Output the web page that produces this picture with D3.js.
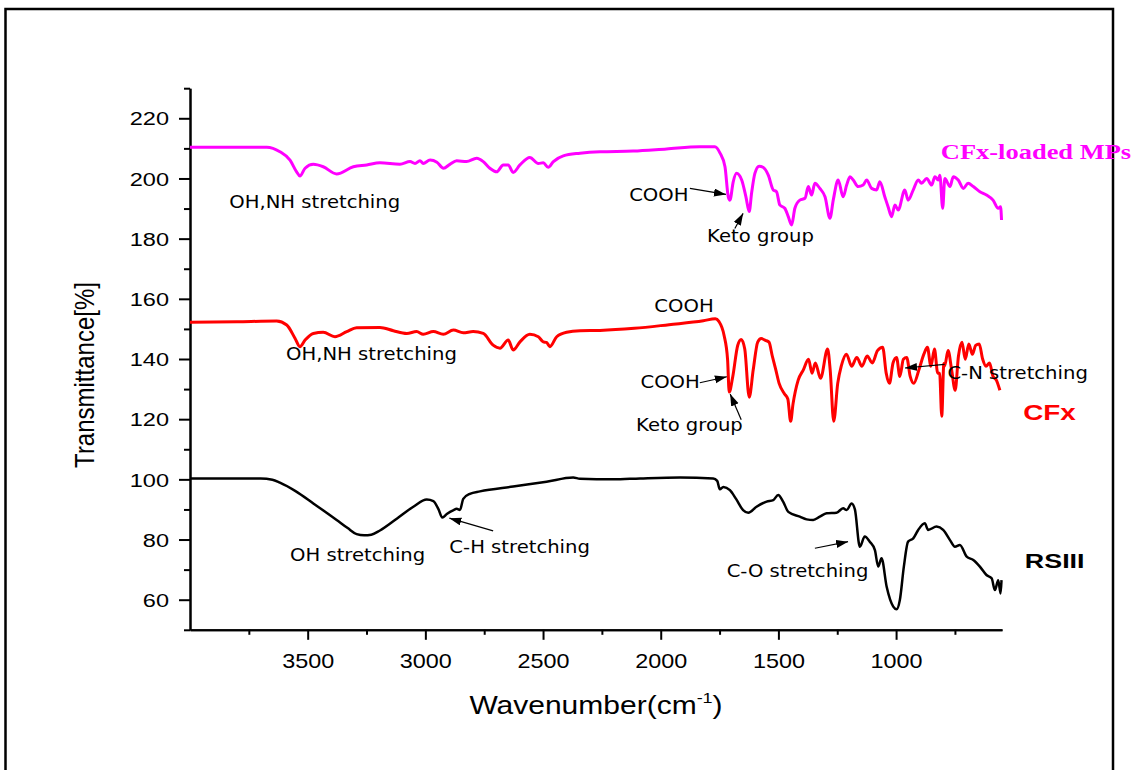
<!DOCTYPE html>
<html><head><meta charset="utf-8">
<script src="https://cdn.jsdelivr.net/npm/d3@7"></script>
<style>body{margin:0;background:#fff;} svg{display:block;}</style>
</head><body>
<svg id="chart" width="1141" height="770"></svg>
<script>
// ---------------- data ----------------
const xMajorTicks = [3500, 3000, 2500, 2000, 1500, 1000];
const xMinorTicks = [3750, 3250, 2750, 2250, 1750, 1250, 750];
const yMajorTicks = [60, 80, 100, 120, 140, 160, 180, 200, 220];
const yMinorTicks = [50, 70, 90, 110, 130, 150, 170, 190, 210, 230];
const seriesNames = ["RSIII", "CFx", "CFx-loaded MPs"];

// [wavenumber (cm-1), transmittance (%)]
const rsiii = [
  [4000,100.3],[3850,100.3],[3700,100.3],[3650,99.9],[3618,98.9],[3550,96.0],[3476,92.0],[3377,86.5],
  [3330,83.8],[3292,81.8],[3260,81.4],[3230,81.6],[3193,83.0],[3120,87.0],[3051,90.9],[2994,93.3],
  [2966,92.8],[2945,90.2],[2928,87.3],[2909,88.5],[2880,89.8],[2867,90.2],[2853,89.8],[2839,93.5],
  [2811,95.2],[2768,96.0],[2627,97.6],[2485,99.2],[2372,100.6],[2343,100.2],[2202,100.0],[2088,100.3],
  [1918,100.6],[1777,100.3],[1760,99.5],[1749,96.7],[1734,97.5],[1706,96.4],[1680,93.5],[1650,89.8],
  [1628,88.9],[1593,90.9],[1550,92.6],[1522,93.1],[1501,94.8],[1480,92.6],[1458,89.2],[1409,87.6],
  [1380,86.7],[1352,86.5],[1324,87.6],[1295,88.7],[1253,88.9],[1225,90.4],[1210,89.8],[1189,92.0],
  [1175,90.0],[1154,77.6],[1133,81.0],[1112,79.3],[1090,76.5],[1076,71.0],[1062,73.8],[1040,64.3],
  [1012,57.7],[998,56.8],[984,59.9],[967,71.0],[949,79.3],[927,80.4],[906,83.2],[878,85.4],
  [864,83.2],[828,84.3],[800,83.2],[771,79.8],[750,77.6],[729,78.2],[700,74.3],[672,73.2],
  [644,71.0],[616,68.2],[594,67.1],[580,63.2],[566,66.5],[556,62.1],[552,66.5]
];
const cfx = [
  [4000,152.2],[3800,152.4],[3632,152.6],[3589,151.3],[3554,146.9],[3533,144.1],[3511,146.3],[3476,148.5],
  [3434,148.9],[3384,147.4],[3334,149.1],[3292,150.4],[3193,150.5],[3136,149.4],[3079,148.5],[3037,149.1],
  [3009,148.2],[2966,149.1],[2924,148.2],[2881,149.6],[2839,148.7],[2797,149.1],[2754,148.5],[2712,144.6],
  [2683,143.6],[2648,146.3],[2627,143.0],[2598,145.7],[2556,148.2],[2520,147.4],[2499,145.7],[2485,145.5],
  [2471,144.1],[2442,147.4],[2400,148.9],[2343,149.4],[2258,149.5],[2112,150.2],[1965,151.4],[1819,152.7],
  [1768,153.4],[1753,152.5],[1731,147.9],[1716,139.9],[1709,129.0],[1694,134.1],[1673,144.5],[1658,146.5],
  [1643,143.3],[1624,127.3],[1607,136.4],[1588,145.6],[1573,146.8],[1555,146.2],[1540,145.6],[1526,141.0],
  [1511,136.4],[1497,131.9],[1474,128.4],[1460,126.7],[1448,119.3],[1438,125.0],[1416,133.0],[1394,136.4],
  [1372,139.9],[1357,135.3],[1343,138.7],[1321,133.6],[1291,143.3],[1280,136.4],[1265,119.3],[1248,131.9],
  [1233,137.6],[1211,141.6],[1189,137.6],[1167,140.5],[1145,137.6],[1123,141.0],[1101,138.7],[1079,142.8],
  [1057,143.9],[1042,135.3],[1028,131.9],[1013,138.7],[998,140.5],[984,134.2],[969,139.9],[955,140.5],
  [940,134.2],[925,131.9],[903,136.4],[882,141.6],[867,143.9],[852,137.6],[837,143.3],[823,135.3],
  [815,135.3],[806,121.0],[797,138.5],[794,137.6],[779,142.8],[764,136.4],[749,129.6],[735,141.0],
  [720,145.6],[706,139.9],[691,145.0],[676,141.6],[662,144.5],[647,145.0],[632,139.9],[618,137.6],
  [603,138.7],[588,134.2],[574,133.0],[559,129.6]
];
const cfxMPs = [
  [4000,210.4],[3674,210.4],[3618,208.9],[3575,206.1],[3547,202.2],[3533,200.8],[3511,203.4],[3476,204.7],
  [3434,203.9],[3377,201.5],[3306,203.9],[3249,204.5],[3193,205.2],[3108,204.7],[3065,205.6],[3044,205.0],
  [3023,205.9],[3009,205.0],[2980,206.1],[2951,205.4],[2923,203.4],[2896,204.7],[2867,205.9],[2825,205.6],
  [2782,206.7],[2754,205.6],[2726,203.4],[2697,202.2],[2669,204.5],[2648,204.5],[2627,202.0],[2598,204.5],
  [2556,207.0],[2520,205.0],[2499,205.2],[2478,203.7],[2456,205.6],[2414,207.5],[2343,208.4],[2258,208.9],
  [2117,209.1],[1975,209.8],[1834,210.5],[1770,210.5],[1748,208.4],[1727,203.9],[1713,193.9],[1706,192.8],
  [1692,198.9],[1678,201.7],[1656,199.5],[1638,193.9],[1624,189.0],[1614,195.1],[1600,201.7],[1582,204.1],
  [1565,203.7],[1543,201.1],[1522,196.2],[1508,195.6],[1494,191.2],[1473,190.1],[1458,187.3],[1444,184.5],
  [1430,190.1],[1409,192.8],[1387,193.4],[1373,197.3],[1359,194.5],[1345,198.4],[1324,196.7],[1302,193.9],
  [1281,186.8],[1267,192.8],[1246,199.5],[1225,193.9],[1210,197.8],[1196,200.6],[1182,199.5],[1161,197.3],
  [1140,197.8],[1125,199.5],[1104,196.7],[1083,196.2],[1069,198.9],[1048,193.9],[1034,190.6],[1019,187.3],
  [1005,191.2],[991,189.5],[963,196.2],[949,192.8],[927,196.2],[906,199.5],[892,198.4],[870,200.0],
  [849,197.8],[835,200.6],[821,199.5],[814,201.1],[802,190.1],[793,200.0],[771,197.3],[757,200.6],
  [736,199.5],[714,196.7],[694,198.4],[672,197.3],[644,195.6],[616,194.5],[588,192.8],[566,190.1],
  [556,190.6],[552,186.2]
];
const seriesData = [rsiii, cfx, cfxMPs];
const seriesColors = ["#000000", "#ff0000", "#ff00ff"];

// annotations: [text, wavenumber, transmittance] (left/baseline of text)
const annotationTexts = [
  ["OH,NH stretching", 3833, 190.1],
  ["COOH", 2134, 192.6],
  ["Keto group", 1803, 178.8],
  ["COOH", 2027, 155.7],
  ["OH,NH stretching", 3592, 139.7],
  ["COOH", 2086, 130.2],
  ["Keto group", 2105, 116.2],
  ["C-N stretching", 782, 133.3],
  ["OH stretching", 3575, 73.0],
  ["C-H stretching", 2898, 75.4],
  ["C-O stretching", 1720, 67.4]
];
// arrows: [fromWn, fromT, toWn, toT]
const annotationArrows = [
  [1876, 196.7, 1723, 194.7],
  [1685, 183.4, 1650, 188.4],
  [1834, 132.1, 1719, 134.1],
  [1658, 119.8, 1705, 128.4],
  [794, 138.2, 962, 137.0],
  [2712, 82.9, 2898, 87.1],
  [1345, 77.1, 1204, 79.3]
];

// ---------------- drawing ----------------
const svg = d3.select("#chart");
const x = d3.scaleLinear().domain([4000, 550]).range([190, 1002]);
const y = d3.scaleLinear().domain([50, 230]).range([629.8, 88.2]);

// outer frame
svg.append("rect").attr("x", 5.5).attr("y", 9).attr("width", 1107.5).attr("height", 800)
  .attr("fill", "none").attr("stroke", "#000").attr("stroke-width", 2.5);

// axes
const xMajor = svg.append("g").attr("transform", `translate(0,${y(50)})`)
  .call(d3.axisBottom(x).tickValues(xMajorTicks).tickFormat(d3.format("d"))
    .tickSize(10).tickSizeOuter(0).tickPadding(14));
const xMinor = svg.append("g").attr("transform", `translate(0,${y(50)})`)
  .call(d3.axisBottom(x).tickValues(xMinorTicks).tickSize(5).tickSizeOuter(0).tickFormat(""));
const yMajor = svg.append("g").attr("transform", `translate(${x(4000)},0)`)
  .call(d3.axisLeft(y).tickValues(yMajorTicks).tickFormat(d3.format("d"))
    .tickSize(11).tickSizeOuter(0));
const yMinor = svg.append("g").attr("transform", `translate(${x(4000)},0)`)
  .call(d3.axisLeft(y).tickValues(yMinorTicks).tickSize(6).tickSizeOuter(0).tickFormat(""));
[xMajor, xMinor, yMajor, yMinor].forEach(g => {
  g.selectAll("path, line").attr("stroke", "#000").attr("stroke-width", 2);
  g.selectAll("text").attr("fill", "#000").attr("font-family", "'Liberation Sans', Arial, sans-serif");
});
xMajor.selectAll("text").attr("font-size", 20).attr("transform", "scale(1.17,1)");
yMajor.selectAll("text").attr("font-size", 19).attr("dy", "0.35em")
  .attr("x", -21 / 1.24).attr("transform", "scale(1.24,1)");

// series lines
const line = d3.line().x(d => x(d[0])).y(d => y(d[1])).curve(d3.curveMonotoneX);
svg.append("g").selectAll("path").data(seriesData).join("path")
  .attr("d", line).attr("fill", "none")
  .attr("stroke", (d, i) => seriesColors[i])
  .attr("stroke-width", (d, i) => i === 0 ? 2.5 : 3)
  .attr("stroke-linejoin", "round");

// arrow marker
svg.append("defs").append("marker").attr("id", "arr")
  .attr("markerUnits", "userSpaceOnUse").attr("markerWidth", 14).attr("markerHeight", 10)
  .attr("refX", 12).attr("refY", 4).attr("orient", "auto")
  .append("path").attr("d", "M0,0 L12,4 L0,8 Z").attr("fill", "#000");

svg.append("g").selectAll("line").data(annotationArrows).join("line")
  .attr("x1", d => x(d[0])).attr("y1", d => y(d[1]))
  .attr("x2", d => x(d[2])).attr("y2", d => y(d[3]))
  .attr("stroke", "#000").attr("stroke-width", 1.2).attr("marker-end", "url(#arr)");

svg.append("g").selectAll("text").data(annotationTexts).join("text")
  .attr("transform", d => `translate(${x(d[1])},${y(d[2])}) scale(1.09,1)`)
  .attr("font-family", "'DejaVu Sans', Verdana, sans-serif").attr("font-size", 18)
  .attr("fill", "#000").text(d => d[0]);

// series labels
function seriesLabel(txt, wn, t, font, size, sx, color) {
  svg.append("text").attr("transform", `translate(${x(wn)},${y(t)}) scale(${sx},1)`)
    .attr("font-family", font).attr("font-size", size).attr("font-weight", "bold")
    .attr("fill", color).text(txt);
}
seriesLabel(seriesNames[2], 810, 206.4, "'Liberation Serif', 'Times New Roman', serif", 21.7, 1.22, seriesColors[2]);
seriesLabel(seriesNames[1], 460, 119.6, "'Liberation Sans', Arial, sans-serif", 21.6, 1.29, seriesColors[1]);
seriesLabel(seriesNames[0], 453, 70.4, "'Liberation Sans', Arial, sans-serif", 21, 1.28, seriesColors[0]);

// axis titles
const xt = svg.append("text")
  .attr("transform", `translate(${(x.range()[0] + x.range()[1]) / 2},${y(50) + 84}) scale(1.2,1)`)
  .attr("text-anchor", "middle").attr("font-family", "'Liberation Sans', Arial, sans-serif")
  .attr("font-size", 25).attr("fill", "#000");
xt.append("tspan").text("Wavenumber(cm");
xt.append("tspan").attr("font-size", 15).attr("dy", -11).text("-1");
xt.append("tspan").attr("dy", 11).text(")");

svg.append("text")
  .attr("transform", `translate(93.5,375) scale(1.16,1) rotate(-90)`)
  .attr("text-anchor", "middle").attr("font-family", "'Liberation Sans', Arial, sans-serif")
  .attr("font-size", 24).attr("fill", "#000").text("Transmittance[%]");
</script>
</body></html>
